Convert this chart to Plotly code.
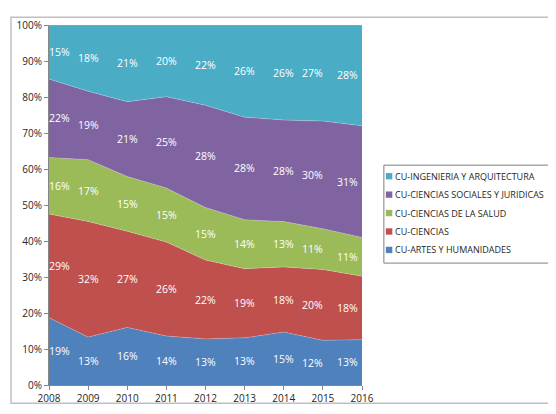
import plotly.graph_objects as go

years = [2008, 2009, 2010, 2011, 2012, 2013, 2014, 2015, 2016]
series_names = [
    "CU-ARTES Y HUMANIDADES",
    "CU-CIENCIAS",
    "CU-CIENCIAS DE LA SALUD",
    "CU-CIENCIAS SOCIALES Y JURIDICAS",
    "CU-INGENIERIA Y ARQUITECTURA",
]
artes = [18.7, 13.3, 16.0, 13.6, 12.8, 13.1, 14.7, 12.4, 12.6]
ciencias = [28.8, 32.1, 26.7, 26.1, 21.9, 19.2, 18.1, 19.7, 17.6]
salud = [15.7, 17.2, 15.2, 15.0, 14.6, 13.6, 12.6, 11.3, 10.8]
sociales = [21.8, 19.0, 20.8, 25.4, 28.4, 28.5, 28.2, 29.9, 31.0]
ingenieria = [15.0, 18.4, 21.3, 19.9, 22.3, 25.6, 26.4, 26.7, 28.0]
colors = ["#4F81BD", "#C0504D", "#9BBB59", "#8064A2", "#4BACC6"]
y_ticks = [0, 10, 20, 30, 40, 50, 60, 70, 80, 90, 100]

all_series = [artes, ciencias, salud, sociales, ingenieria]
FONT = "Open Sans"

fig = go.Figure()
for name, vals, col in zip(series_names, all_series, colors):
    fig.add_trace(go.Scatter(
        x=years, y=vals, name=name, mode="lines",
        stackgroup="one", groupnorm="percent",
        line=dict(width=0.6, color="rgba(255,255,255,0.35)"),
        fillcolor=col, showlegend=False, hoverinfo="x+y+name",
    ))

# data labels at middle of each band
annotations = []
base = [0.0] * len(years)
for vals in all_series:
    tot = [sum(s[i] for s in all_series) for i in range(len(years))]
    for i, yr in enumerate(years):
        v = vals[i] / tot[i] * 100
        mid = base[i] + v / 2
        xs = 0
        if i == 0:
            xs = 10
        elif i == len(years) - 1:
            xs = -15
        elif i == len(years) - 2:
            xs = -10
        annotations.append(dict(
            x=yr, y=mid, xref="x", yref="y", text=f"{round(v)}%",
            showarrow=False, xshift=xs,
            font=dict(family=FONT, size=10.5, color="white"),
        ))
        base[i] += v

# page-pixel -> paper coordinates (plot area spans x 47..362, y 17..392 on the page)
def px2x(px):
    return (px - 47) / 315.0

def py2y(py):
    return (392 - py) / 375.0

shapes = []
shapes.append(dict(type="rect", xref="paper", yref="paper",
                   x0=px2x(384), x1=px2x(570), y0=py2y(265), y1=py2y(163),
                   line=dict(color="#7F7F7F", width=1), fillcolor="white", layer="above"))
leg_rows = list(zip(series_names, colors))[::-1]
for k, (name, col) in enumerate(leg_rows):
    cy = 174.5 + k * 19.2
    shapes.append(dict(type="rect", xref="paper", yref="paper",
                       x0=px2x(386), x1=px2x(392.5), y0=py2y(cy + 3.3), y1=py2y(cy - 3.3),
                       line=dict(width=0), fillcolor=col, layer="above"))
    annotations.append(dict(
        x=px2x(393), y=py2y(cy), xref="paper", yref="paper", text=name,
        showarrow=False, xanchor="left", yanchor="middle",
        font=dict(family=FONT, size=9.0, color="#262626"),
    ))

# outer chart border
shapes.append(dict(type="rect", xref="paper", yref="paper",
                   x0=px2x(8.8), x1=px2x(600), y0=py2y(411), y1=py2y(8.8),
                   line=dict(color="#BFBFBF", width=1.5), layer="below"))

fig.update_layout(
    width=548, height=406,
    margin=dict(l=39, r=194, t=9, b=22),
    paper_bgcolor="white", plot_bgcolor="white",
    font=dict(family=FONT, size=10, color="#262626"),
    showlegend=False,
    annotations=annotations, shapes=shapes,
    xaxis=dict(
        range=[2008, 2016], tickvals=years, ticktext=[str(y) for y in years],
        showgrid=False, zeroline=False, showline=True, linecolor="#868686",
        ticks="outside", ticklen=4, tickcolor="#868686",
        tickfont=dict(family=FONT, size=10, color="#262626"),
        fixedrange=True,
    ),
    yaxis=dict(
        range=[0, 100], tickvals=y_ticks, ticktext=[f"{t}%" for t in y_ticks],
        showgrid=False, zeroline=False, showline=True, linecolor="#868686",
        ticks="outside", ticklen=4, tickcolor="#868686",
        tickfont=dict(family=FONT, size=10, color="#262626"),
        fixedrange=True,
    ),
)

fig.write_html("out.html")
